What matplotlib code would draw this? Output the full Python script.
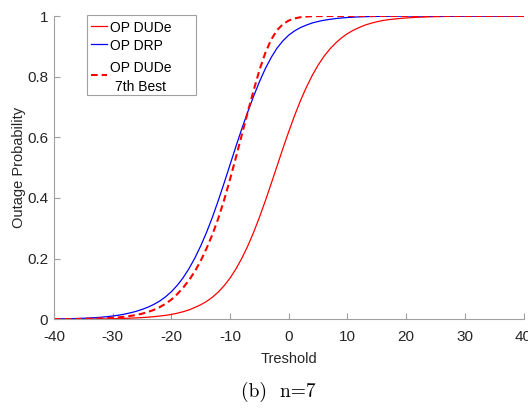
import numpy as np
import matplotlib
matplotlib.use('Agg')
import matplotlib.pyplot as plt
from matplotlib.patches import Rectangle
from matplotlib.lines import Line2D

plt.rcParams['font.family'] = ['Liberation Sans', 'DejaVu Sans']
plt.rcParams['axes.unicode_minus'] = False

# umbral en dB, paso de 1
thr = np.arange(-40, 41)

op_dude = [
    0.0002, 0.0002, 0.0003, 0.0004, 0.0005, 0.0006, 0.0008, 0.0010, 0.0012, 0.0015,
    0.0019, 0.0024, 0.0030, 0.0037, 0.0046, 0.0057, 0.0070, 0.0087, 0.0107, 0.0130,
    0.016, 0.020, 0.025, 0.031, 0.039, 0.048, 0.059, 0.073, 0.090, 0.111,
    0.136, 0.166, 0.201, 0.241, 0.286, 0.336, 0.390, 0.447, 0.505, 0.563,
    0.619, 0.672, 0.721, 0.765, 0.804, 0.838, 0.867, 0.891, 0.911, 0.928,
    0.942, 0.953, 0.962, 0.970, 0.976, 0.981, 0.985, 0.988, 0.990, 0.992,
    0.9935, 0.9948, 0.9958, 0.9966, 0.9973, 0.9979, 0.9984, 0.9988, 0.9991, 0.9993,
    0.9995, 0.9996, 0.9997, 0.9998, 0.9998, 0.9999, 0.9999, 0.9999, 1.0, 1.0,
    1.0,
]

op_drp = [
    0.0010, 0.0013, 0.0017, 0.0021, 0.0027, 0.0034, 0.0043, 0.0054, 0.0068, 0.0086,
    0.0108, 0.0136, 0.0170, 0.0212, 0.0263, 0.0325, 0.040, 0.049, 0.060, 0.074,
    0.091, 0.112, 0.137, 0.167, 0.202, 0.242, 0.287, 0.337, 0.392, 0.450,
    0.510, 0.570, 0.628, 0.683, 0.735, 0.783, 0.826, 0.863, 0.894, 0.918,
    0.937, 0.951, 0.962, 0.970, 0.977, 0.982, 0.986, 0.989, 0.9915, 0.9935,
    0.995, 0.9962, 0.9971, 0.9978, 0.9983, 0.9987, 0.9990, 0.9992, 0.9994, 0.9995,
    0.9996, 0.9997, 0.9997, 0.9998, 0.9998, 0.9999, 0.9999, 0.9999, 1.0, 1.0,
    1.0, 1.0, 1.0, 1.0, 1.0, 1.0, 1.0, 1.0, 1.0, 1.0,
    1.0,
]

op_dude_7th = [
    0.0004, 0.0005, 0.00065, 0.00085, 0.0011, 0.0014, 0.0018, 0.0023, 0.0030, 0.0039,
    0.0050, 0.0065, 0.0085, 0.0110, 0.0143, 0.0185, 0.024, 0.031, 0.040, 0.051,
    0.065, 0.083, 0.104, 0.129, 0.158, 0.193, 0.234, 0.280, 0.333, 0.394,
    0.462, 0.534, 0.608, 0.682, 0.754, 0.821, 0.878, 0.922, 0.953, 0.973,
    0.985, 0.992, 0.996, 0.9982, 0.9993, 0.9998, 1.0, 1.0, 1.0, 1.0,
    1.0, 1.0, 1.0, 1.0, 1.0, 1.0, 1.0, 1.0, 1.0, 1.0,
    1.0, 1.0, 1.0, 1.0, 1.0, 1.0, 1.0, 1.0, 1.0, 1.0,
    1.0, 1.0, 1.0, 1.0, 1.0, 1.0, 1.0, 1.0, 1.0, 1.0,
    1.0,
]

x_ticks = [-40, -30, -20, -10, 0, 10, 20, 30, 40]
y_ticks = [0, 0.2, 0.4, 0.6, 0.8, 1]
y_tick_labels = ['0', '0.2', '0.4', '0.6', '0.8', '1']

gris = '#a0a0a0'
texto = '#262626'
guion = (0, (3.2, 1.9))

fig = plt.figure(figsize=(5.28, 4.08), dpi=100)
ax = fig.add_axes([54 / 528, 1 - 319.3 / 408, 469.5 / 528, 303.3 / 408])

ax.plot(thr, op_dude, color='red', lw=0.9)
ax.plot(thr, op_drp, color='blue', lw=0.9)
ax.plot(thr, op_dude_7th, color='red', lw=1.5, ls=guion)

ax.set_xlim(-40, 40)
ax.set_ylim(0, 1)
ax.set_xticks(x_ticks)
ax.set_yticks(y_ticks)
ax.set_yticklabels(y_tick_labels)

for lado in ['top', 'right']:
    ax.spines[lado].set_visible(False)
for lado in ['left', 'bottom']:
    ax.spines[lado].set_color(gris)
    ax.spines[lado].set_linewidth(0.8)

ax.tick_params(axis='both', direction='in', length=4.5, width=0.8,
               color=gris, labelcolor=texto, labelsize=11)
ax.tick_params(axis='x', pad=7.5)
ax.tick_params(axis='y', pad=4.3)

ax.set_xlabel('Treshold', fontsize=10.5, color=texto, labelpad=5.8)
ax.set_ylabel('Outage Probability', fontsize=10.5, color=texto, labelpad=0.5)


# leyenda armada a mano, en píxeles de la figura (origen arriba a la izquierda)
def px(x, y):
    return x / 528, 1 - y / 408


fig.add_artist(Rectangle(px(87, 95), 109 / 528, 80 / 408,
                         transform=fig.transFigure, facecolor='white',
                         edgecolor=gris, lw=0.8))

entradas = [
    ('red', 0.9, '-', 26, ['OP DUDe'], [32.3]),
    ('blue', 0.9, '-', 44, ['OP DRP'], [50.0]),
    ('red', 1.5, guion, 75, ['OP DUDe', '7th Best'], [71.7, 90.7]),
]
for color, ancho, estilo, y_linea, lineas, bases in entradas:
    x0, y0 = px(91, y_linea)
    x1, _ = px(107, y_linea)
    fig.add_artist(Line2D([x0, x1], [y0, y0], color=color, lw=ancho,
                          ls=estilo, transform=fig.transFigure))
    if len(lineas) == 1:
        fig.text(*px(110, bases[0]), lineas[0], fontsize=10,
                 ha='left', va='baseline')
    else:
        for linea, base in zip(lineas, bases):
            fig.text(*px(140.5, base), linea, fontsize=10,
                     ha='center', va='baseline')

fig.text(278.5 / 528, 1 - 392 / 408, '(b)  n=7', family='cmr10',
         fontsize=14, ha='center', va='center')

fig.savefig('out.png', dpi=100)
